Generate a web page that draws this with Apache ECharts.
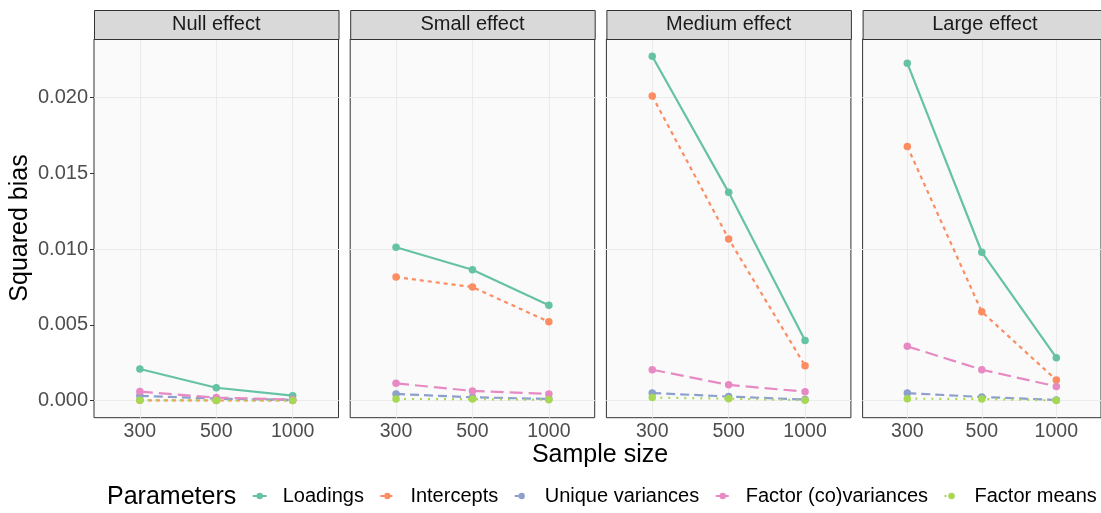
<!DOCTYPE html>
<html>
<head>
<meta charset="utf-8">
<script src="https://cdn.jsdelivr.net/npm/echarts@6/dist/echarts.min.js"></script>
<style>
  html, body { margin: 0; padding: 0; background: #ffffff; }
  #chart { width: 1101px; height: 513px; }
</style>
</head>
<body>
<div id="chart"></div>
<script>
// Squared bias by sample size, one facet per effect size
const sampleSizes = ['300', '500', '1000'];
const effects = ['Null effect', 'Small effect', 'Medium effect', 'Large effect'];
const parameters = ['Loadings', 'Intercepts', 'Unique variances', 'Factor (co)variances', 'Factor means'];

// one row per effect (null, small, medium, large), values for n = 300, 500, 1000
const loadings = [
  [0.00209, 0.00085, 0.00033],
  [0.01012, 0.00863, 0.00630],
  [0.02272, 0.01374, 0.00397],
  [0.02226, 0.00979, 0.00283]
];
const intercepts = [
  [0.00002, 0.00001, 0.00001],
  [0.00815, 0.00749, 0.00520],
  [0.02009, 0.01067, 0.00230],
  [0.01677, 0.00586, 0.00136]
];
const uniqueVariances = [
  [0.00032, 0.00013, 0.00005],
  [0.00044, 0.00022, 0.00011],
  [0.00050, 0.00027, 0.00007],
  [0.00050, 0.00024, 0.00005]
];
const factorCovariances = [
  [0.00060, 0.00020, 0.00007],
  [0.00114, 0.00064, 0.00044],
  [0.00204, 0.00104, 0.00059],
  [0.00358, 0.00204, 0.00094]
];
const factorMeans = [
  [0.00003, 0.00001, 0.00001],
  [0.00011, 0.00010, 0.00006],
  [0.00020, 0.00013, 0.00003],
  [0.00013, 0.00011, 0.00001]
];

const yTicks = [0, 0.005, 0.010, 0.015, 0.020];
const yMinorTicks = [0.0025, 0.0075, 0.0125, 0.0175, 0.0225];

const seriesValues = [loadings, intercepts, uniqueVariances, factorCovariances, factorMeans];
const colors = ['#66C2A5', '#FC8D62', '#8DA0CB', '#E78AC3', '#A6D854'];
const dashes = ['solid', [4, 4], [9, 5], [13, 6], [2, 6]];

const FONT = '"Liberation Sans", Arial, Helvetica, sans-serif';

// y range padded by 5% of the data span on each side
const allVals = seriesValues.flat(2);
const lo = Math.min(...allVals), hi = Math.max(...allVals);
const pad = (hi - lo) * 0.05;
const yMin = lo - pad, yMax = hi + pad;

// panel geometry
const P_LEFT = 94, P_STEP = 256.2, P_W = 244.5, P_TOP = 39, P_H = 378.7, STRIP_H = 29;

const grids = [], xAxes = [], yAxes = [], series = [], graphics = [];
const catPos = sampleSizes.map((_, i) => i + 1);

effects.forEach((effect, p) => {
  const left = P_LEFT + p * P_STEP;
  grids.push({
    left: left, top: P_TOP, width: P_W, height: P_H,
    show: true, backgroundColor: '#FAFAFA', borderColor: '#333333', borderWidth: 1
  });
  xAxes.push({
    type: 'value', gridIndex: p, min: 0.4, max: 3.6,
    axisLine: { show: false },
    splitLine: { show: false },
    axisTick: { show: true, customValues: catPos, length: 4, lineStyle: { color: '#333333', width: 1 } },
    axisLabel: {
      show: true, customValues: catPos, margin: 4,
      formatter: v => sampleSizes[Math.round(v) - 1] || '',
      fontSize: 19.5, color: '#4D4D4D', fontFamily: FONT
    }
  });
  yAxes.push({
    type: 'value', gridIndex: p, min: yMin, max: yMax,
    axisLine: { show: false },
    splitLine: { show: false },
    axisTick: { show: p === 0, customValues: yTicks, length: 4, lineStyle: { color: '#333333', width: 1 } },
    axisLabel: {
      show: p === 0, customValues: yTicks, margin: 6,
      formatter: v => v.toFixed(3),
      fontSize: 20, color: '#4D4D4D', fontFamily: FONT
    }
  });

  // panel grid lines, kept beneath the data
  const gridLines = [];
  yMinorTicks.forEach(v => gridLines.push({ yAxis: v, lineStyle: { color: '#F1F1F1', width: 0.8, type: 'solid' } }));
  yTicks.forEach(v => gridLines.push({ yAxis: v, lineStyle: { color: '#EBEBEB', width: 1.1, type: 'solid' } }));
  catPos.forEach(v => gridLines.push({ xAxis: v, lineStyle: { color: '#EBEBEB', width: 1.1, type: 'solid' } }));
  series.push({
    type: 'line', xAxisIndex: p, yAxisIndex: p, data: [], silent: true, z: 1,
    markLine: { silent: true, z: 1, symbol: ['none', 'none'], label: { show: false }, animation: false, data: gridLines }
  });

  parameters.forEach((name, k) => {
    series.push({
      name: name, type: 'line', xAxisIndex: p, yAxisIndex: p, z: 3 + k,
      data: seriesValues[k][p].map((v, i) => [catPos[i], v]),
      symbol: 'circle', symbolSize: 7.5, showSymbol: true,
      itemStyle: { color: colors[k] },
      lineStyle: { color: colors[k], width: 2.2, type: dashes[k] },
      emphasis: { disabled: true }
    });
  });

  // facet strip
  graphics.push({
    type: 'rect', left: left, top: P_TOP - STRIP_H, z: 10,
    shape: { width: P_W, height: STRIP_H },
    style: { fill: '#D9D9D9', stroke: '#333333', lineWidth: 1 }
  });
  graphics.push({
    type: 'text', x: left + P_W / 2, y: P_TOP - STRIP_H / 2, z: 11,
    style: { text: effect, fill: '#1A1A1A', font: '20px ' + FONT, textAlign: 'center', textVerticalAlign: 'middle' }
  });
});

// axis titles and legend title
graphics.push({
  type: 'text', x: 600, y: 455, z: 11,
  style: { text: 'Sample size', fill: '#000000', font: '25px ' + FONT, textAlign: 'center', textVerticalAlign: 'middle' }
});
graphics.push({
  type: 'text', x: 20, y: 228, rotation: Math.PI / 2, z: 11,
  style: { text: 'Squared bias', fill: '#000000', font: '25px ' + FONT, textAlign: 'center', textVerticalAlign: 'middle' }
});
graphics.push({
  type: 'text', x: 107, y: 497.5, z: 11,
  style: { text: 'Parameters', fill: '#000000', font: '25px ' + FONT, textAlign: 'left', textVerticalAlign: 'middle' }
});

const chart = echarts.init(document.getElementById('chart'), null, { renderer: 'canvas' });
chart.setOption({
  animation: false,
  backgroundColor: '#ffffff',
  grid: grids,
  xAxis: xAxes,
  yAxis: yAxes,
  legend: {
    data: parameters, left: 251.7, top: 486, width: 880, padding: 0, orient: 'horizontal',
    itemWidth: 14, itemHeight: 8, itemGap: 15.5, selectedMode: false,
    textStyle: { fontSize: 20, color: '#000000', fontFamily: FONT, padding: [0, 0, 0, 11] }
  },
  graphic: graphics,
  series: series
});
</script>
</body>
</html>
